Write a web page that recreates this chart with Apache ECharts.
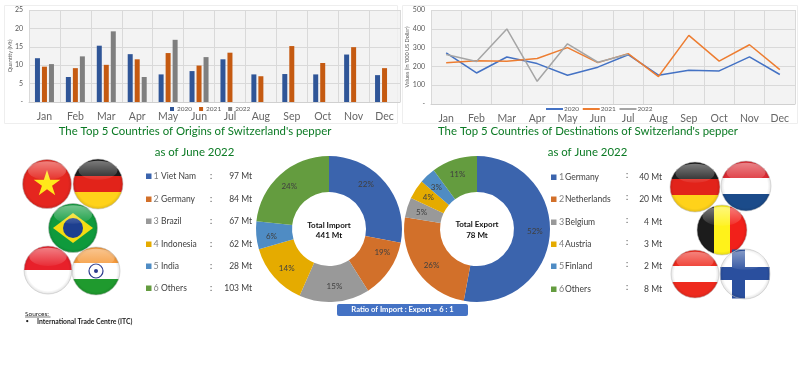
<!DOCTYPE html>
<html>
<head>
<meta charset="utf-8">
<style>
  html, body { margin: 0; background: #fff; }
  #chart { width: 800px; height: 373px; }
</style>
<script src="https://cdn.jsdelivr.net/npm/echarts@6/dist/echarts.min.js"></script>
</head>
<body>
<div id="chart"></div>
<script>
const months = ['Jan', 'Feb', 'Mar', 'Apr', 'May', 'Jun', 'Jul', 'Aug', 'Sep', 'Oct', 'Nov', 'Dec']

const qty2020 = [11.9, 6.8, 15.3, 13.0, 7.5, 8.4, 11.6, 7.5, 7.6, 7.5, 12.9, 7.3]
const qty2021 = [9.6, 9.2, 10.1, 11.6, 13.3, 9.9, 13.4, 7.0, 15.2, 10.6, 14.9, 9.2]
const qty2022 = [10.3, 12.4, 19.2, 6.8, 16.9, 12.2]

const val2020 = [272, 165, 250, 215, 153, 196, 262, 153, 180, 176, 251, 157]
const val2021 = [220, 230, 228, 242, 300, 220, 268, 146, 365, 228, 315, 183]
const val2022 = [263, 226, 399, 121, 320, 222, 265]

const importNames = ['Viet Nam', 'Germany', 'Brazil', 'Indonesia', 'India', 'Others']
const importMt = [97, 84, 67, 62, 28, 103]
// the printed percentages don't agree with the slice sizes in the picture, so both are kept
const importLabels = [22, 19, 15, 14, 6, 24]
const importSlices = [28, 13, 15.6, 13.9, 6.2, 23.3]

const exportNames = ['Germany', 'Netherlands', 'Belgium', 'Austria', 'Finland', 'Others']
const exportMt = [40, 20, 4, 3, 2, 8]
const exportLabels = [52, 26, 5, 4, 3, 11]
const exportSlices = [52.9, 24.7, 4.4, 4.3, 3.6, 10.1]

const pieColors = ['#3b64ad', '#d2702a', '#999999', '#e5ab00', '#4f8cc4', '#649c3f']
const font = 'Lato, sans-serif'
const green = '#0b7a24'

const chart = echarts.init(document.getElementById('chart'))

function stripes (colors, horizontal) {
  const stops = []
  colors.forEach((c, i) => {
    stops.push({ offset: i / colors.length, color: c })
    stops.push({ offset: (i + 1) / colors.length, color: c })
  })
  return new echarts.graphic.LinearGradient(0, 0, horizontal ? 1 : 0, horizontal ? 0 : 1, stops)
}

function star (cx, cy, r) {
  const points = []
  for (let i = 0; i < 10; i++) {
    const a = -Math.PI / 2 + i * Math.PI / 5
    const rr = i % 2 ? r * 0.38 : r
    points.push([cx + rr * Math.cos(a), cy + rr * Math.sin(a)])
  }
  return { type: 'polygon', z: 101, shape: { points }, style: { fill: '#ffe81a' } }
}

function box (x, y, width, height, fill) {
  return { type: 'rect', z: 101, shape: { x, y, width, height }, style: { fill } }
}

function flag (cx, cy, r, fill, extra) {
  return [
    { type: 'circle', z: 100, shape: { cx, cy, r }, style: { fill } },
    ...(extra || []),
    {
      type: 'circle', z: 102, shape: { cx, cy, r },
      style: {
        fill: new echarts.graphic.RadialGradient(0.5, 0.5, 0.5, [
          { offset: 0.85, color: 'rgba(0,0,0,0)' },
          { offset: 1, color: 'rgba(0,0,0,0.12)' }
        ]),
        stroke: 'rgba(190,190,190,0.7)',
        lineWidth: 0.8
      }
    },
    {
      type: 'ellipse', z: 103, shape: { cx, cy: cy - r * 0.55, rx: r * 0.78, ry: r * 0.38 },
      style: {
        fill: new echarts.graphic.LinearGradient(0, 0, 0, 1, [
          { offset: 0, color: 'rgba(255,255,255,0.42)' },
          { offset: 1, color: 'rgba(255,255,255,0.06)' }
        ])
      }
    }
  ]
}

function txt (x, y, text, opt) {
  return {
    type: 'text', z: 110, x, y,
    style: Object.assign({
      text, fontFamily: font, fontSize: 8.5, fill: '#404040', align: 'left', verticalAlign: 'middle'
    }, opt)
  }
}

function legendRows (names, mt, rowY, xs) {
  const out = []
  names.forEach((name, i) => {
    const y = rowY[i]
    out.push(box(xs.swatch, y - 2.5, 5.5, 5.5, pieColors[i]))
    out.push(txt(xs.num, y, String(i + 1), { fontSize: 9, fill: '#7f7f7f' }))
    out.push(txt(xs.name, y, name))
    out.push(txt(xs.colon, y + xs.colonDy, ':', { align: 'center' }))
    out.push(txt(xs.value, y, mt[i] + ' Mt', { align: 'right' }))
  })
  return out
}

const graphics = [
  { type: 'rect', z: 0, shape: { x: 4.5, y: 5.5, width: 393, height: 118 }, style: { fill: 'none', stroke: '#eeeeee', lineWidth: 1 } },
  { type: 'rect', z: 0, shape: { x: 402.5, y: 5.5, width: 395, height: 118 }, style: { fill: 'none', stroke: '#eeeeee', lineWidth: 1 } },

  Object.assign(txt(10, 56, 'Quantity (Mt)', { fontSize: 5.5, align: 'center', fill: '#595959' }), { rotation: Math.PI / 2 }),
  Object.assign(txt(407.5, 57, "Values (in '000 US Dollar)", { fontSize: 5.5, align: 'center', fill: '#595959' }), { rotation: Math.PI / 2 }),

  txt(195, 131.5, "The Top 5 Countries of Origins of Switzerland's pepper", { fontSize: 11.4, fill: green, align: 'center' }),
  txt(194.5, 152, 'as of June 2022', { fontSize: 11.4, fill: green, align: 'center' }),
  txt(588, 131.5, "The Top 5 Countries of Destinations of Switzerland's pepper", { fontSize: 11.4, fill: green, align: 'center' }),
  txt(587.5, 152, 'as of June 2022', { fontSize: 11.4, fill: green, align: 'center' }),

  ...legendRows(importNames, importMt, [176, 199, 221, 244, 266, 288], { swatch: 146, num: 153.5, name: 161, colon: 211, colonDy: 0, value: 252 }),
  ...legendRows(exportNames, exportMt, [177, 199, 222, 244, 266, 289], { swatch: 551, num: 559, name: 565, colon: 627, colonDy: -2, value: 662 }),

  txt(329, 225, 'Total Import', { fontSize: 8, fontWeight: 'bold', fill: '#111', align: 'center' }),
  txt(329, 235, '441 Mt', { fontSize: 8, fontWeight: 'bold', fill: '#111', align: 'center' }),
  txt(477, 224, 'Total Export', { fontSize: 8, fontWeight: 'bold', fill: '#111', align: 'center' }),
  txt(477, 235, '78 Mt', { fontSize: 8, fontWeight: 'bold', fill: '#111', align: 'center' }),

  { type: 'rect', z: 105, shape: { x: 337, y: 304, width: 131, height: 12, r: 2 }, style: { fill: '#4472c4' } },
  txt(402.5, 310, 'Ratio of Import : Export = 6 : 1', { fontSize: 7.6, fontWeight: 'bold', fill: '#fff', align: 'center' }),

  txt(25, 313.5, 'Sources:', { fontSize: 6.5, fill: '#222' }),
  { type: 'line', z: 110, shape: { x1: 25, y1: 317, x2: 50.5, y2: 317 }, style: { stroke: '#222', lineWidth: 0.6 } },
  txt(25.5, 321.5, '•', { fontSize: 6, fill: '#222' }),
  txt(37, 321.5, 'International Trade Centre (ITC)', { fontSize: 6.8, fontWeight: 'bold', fill: '#222' }),

  // flags, left
  ...flag(47, 184, 24.5, '#e5261f', [star(47, 184, 14)]),
  ...flag(98, 184, 25, stripes(['#1c1c1c', '#e2231a', '#ffd21a'])),
  ...flag(73, 228, 24.5, '#0f9a3c', [
    { type: 'polygon', z: 101, shape: { points: [[53, 228], [73, 213], [93, 228], [73, 243]] }, style: { fill: '#f4dc12' } },
    { type: 'circle', z: 101, shape: { cx: 73, cy: 228, r: 10 }, style: { fill: '#1d3f8f' } }
  ]),
  ...flag(48, 270, 24, stripes(['#e8202a', '#ffffff'])),
  ...flag(96, 271, 24, stripes(['#f59a3c', '#ffffff', '#1f9a2e']), [
    { type: 'circle', z: 101, shape: { cx: 96, cy: 271, r: 7 }, style: { fill: '#fff', stroke: '#2b3a8c', lineWidth: 1.2 } },
    { type: 'circle', z: 101, shape: { cx: 96, cy: 271, r: 2 }, style: { fill: '#2b3a8c' } }
  ]),

  // flags, right
  ...flag(695, 187, 25, stripes(['#1c1c1c', '#e2231a', '#ffd21a'])),
  ...flag(746, 186, 25, stripes(['#dc2a32', '#ffffff', '#1b4b8a'])),
  ...flag(722, 230, 25, stripes(['#1c1c1c', '#fff21a', '#f2201a'], true)),
  ...flag(695, 274, 24, stripes(['#ee2a1e', '#ffffff', '#ee2a1e'])),
  ...flag(745, 274, 25, '#ffffff', [
    box(720.3, 267, 49.4, 13, '#2a4f9e'),
    box(732, 249.5, 13, 49, '#2a4f9e')
  ])
]

function pieSeries (center, slices, labels) {
  return [
    {
      type: 'pie', center, radius: [37, 73], startAngle: 90, silent: true,
      label: { show: false },
      data: slices.map((v, i) => ({ value: v, itemStyle: { color: pieColors[i] } }))
    },
    {
      // carries the printed percentages, which sit where the printed shares would put them
      type: 'pie', center, radius: [37, 73], startAngle: 90, silent: true, z: 3,
      itemStyle: { color: 'rgba(0,0,0,0)' },
      label: { show: true, position: 'inside', formatter: '{c}%', fontFamily: font, fontSize: 8, color: '#404040' },
      labelLine: { show: false },
      data: labels
    }
  ]
}

function yAxisFor (gridIndex, max, interval) {
  return {
    type: 'value', gridIndex, min: 0, max, interval,
    axisLine: { show: false },
    axisTick: { show: false },
    axisLabel: {
      fontFamily: font, fontSize: 7, color: '#595959', margin: 6,
      formatter: v => (v === 0 ? '-' : v)
    },
    splitLine: { show: true, lineStyle: { color: '#d9d9d9', width: 1 } }
  }
}

function xAxisFor (gridIndex) {
  return {
    type: 'category', gridIndex, data: months,
    axisLine: { lineStyle: { color: '#d0d0d0' } },
    axisTick: { show: false },
    axisLabel: { fontFamily: font, fontSize: 10.5, color: '#666666', margin: 9, interval: 0 },
    splitLine: { show: true, lineStyle: { color: '#d9d9d9', width: 1 } }
  }
}

const option = {
  animation: false,
  backgroundColor: '#fff',
  grid: [
    { left: 29, right: 400, top: 10, height: 92, show: true, backgroundColor: '#f3f3f3', borderWidth: 0 },
    { left: 431, right: 5, top: 10, height: 94, show: true, backgroundColor: '#f3f3f3', borderWidth: 0 }
  ],
  xAxis: [xAxisFor(0), xAxisFor(1)],
  yAxis: [yAxisFor(0, 25, 5), yAxisFor(1, 500, 100)],
  legend: [
    {
      data: ['2020', '2021', '2022'], left: 170, top: 105.5, icon: 'rect', itemWidth: 4, itemHeight: 4, itemGap: 7, padding: 0,
      textStyle: { fontFamily: font, fontSize: 6.5, color: '#595959', padding: [0, 0, 0, -2] }
    },
    {
      data: ['2020 ', '2021 ', '2022 '], left: 545, top: 105.5, itemWidth: 17, itemHeight: 2, itemGap: 1, padding: 0,
      textStyle: { fontFamily: font, fontSize: 6.5, color: '#595959', padding: [0, 0, 0, -4] }
    }
  ],
  graphic: { elements: graphics },
  series: [
    { name: '2020', type: 'bar', xAxisIndex: 0, yAxisIndex: 0, barWidth: 5, barGap: '40%', itemStyle: { color: '#2f5597' }, data: qty2020 },
    { name: '2021', type: 'bar', xAxisIndex: 0, yAxisIndex: 0, barWidth: 5, barGap: '40%', itemStyle: { color: '#c55a11' }, data: qty2021 },
    { name: '2022', type: 'bar', xAxisIndex: 0, yAxisIndex: 0, barWidth: 5, barGap: '40%', itemStyle: { color: '#7f7f7f' }, data: qty2022 },
    { name: '2020 ', type: 'line', xAxisIndex: 1, yAxisIndex: 1, symbol: 'none', lineStyle: { width: 1.5, color: '#4472c4' }, itemStyle: { color: '#4472c4' }, data: val2020 },
    { name: '2021 ', type: 'line', xAxisIndex: 1, yAxisIndex: 1, symbol: 'none', lineStyle: { width: 1.5, color: '#ed7d31' }, itemStyle: { color: '#ed7d31' }, data: val2021 },
    { name: '2022 ', type: 'line', xAxisIndex: 1, yAxisIndex: 1, symbol: 'none', lineStyle: { width: 1.5, color: '#a5a5a5' }, itemStyle: { color: '#a5a5a5' }, data: val2022 },
    ...pieSeries([329, 229], importSlices, importLabels),
    ...pieSeries([477, 229], exportSlices, exportLabels)
  ]
}
chart.setOption(option)
</script>
</body>
</html>
